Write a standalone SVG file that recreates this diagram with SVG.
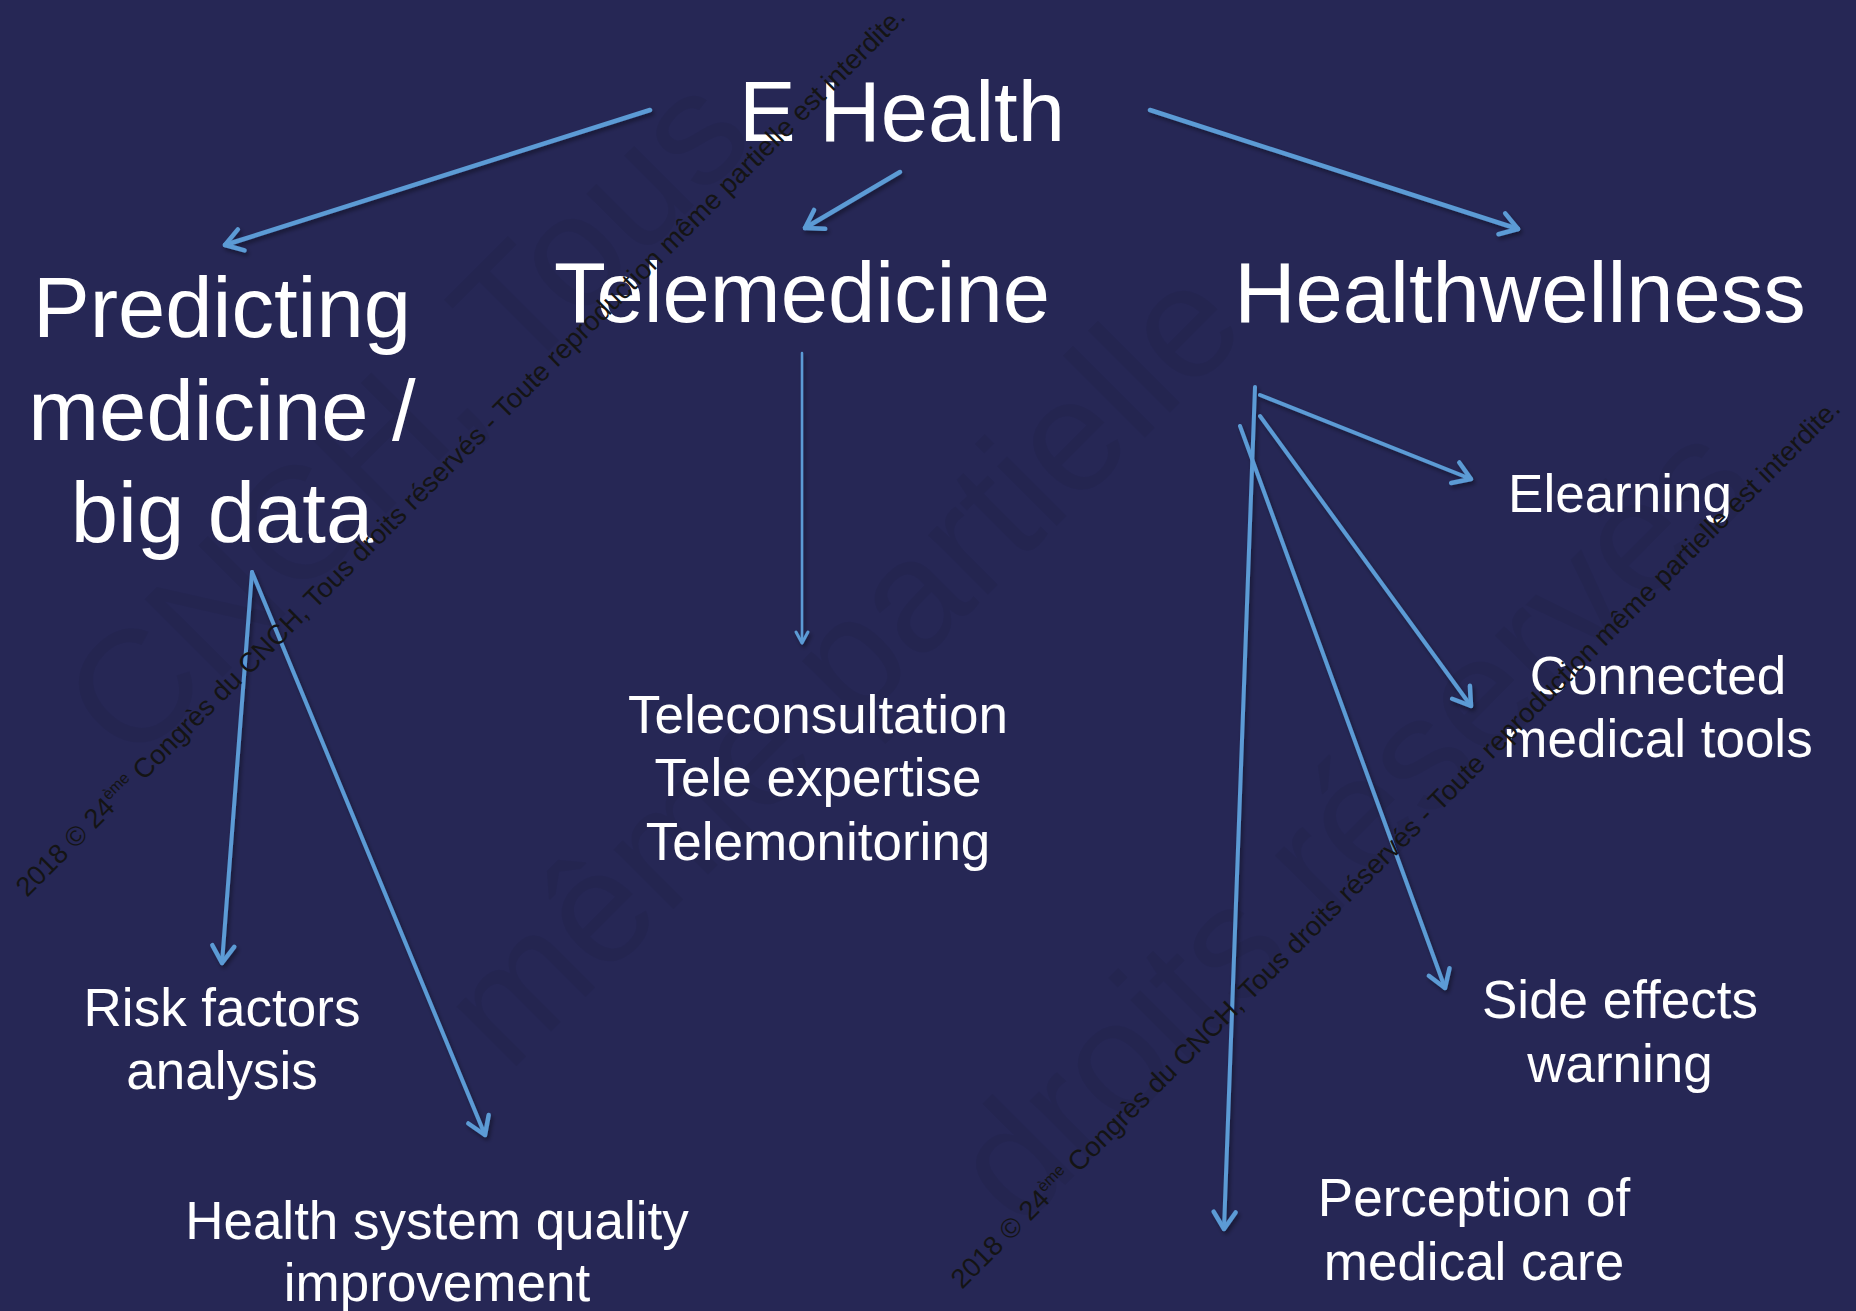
<svg xmlns="http://www.w3.org/2000/svg" width="1856" height="1311" viewBox="0 0 1856 1311">
  <defs>
    <style>
      .lbl { font-family: "Liberation Sans", Arial, sans-serif; fill: #ffffff; text-anchor: middle; }
      .head { font-size: 85px; }
      .sub { font-size: 53px; }
      .wire { stroke: #5b9bd5; fill: none; stroke-linecap: round; }
      .thick { stroke-width: 4.5; marker-end: url(#open); }
      .mid { stroke-width: 4; marker-end: url(#open); }
      .thin { stroke-width: 2.5; marker-end: url(#openThin); }
      .mark { font-family: "Liberation Sans", Arial, sans-serif; font-size: 27.3px; fill: #141414; }
      .ghost { font-family: "Liberation Sans", Arial, sans-serif; font-size: 160px; fill: #000000; fill-opacity: 0.05; }
    </style>
    <marker id="open" viewBox="-22 -13 26 26" refX="0" refY="0" markerWidth="26" markerHeight="26" markerUnits="userSpaceOnUse" orient="auto" overflow="visible">
      <path d="M-17,-11 L0,0 L-17,11" fill="none" stroke="#5b9bd5" stroke-width="4.5" stroke-linecap="round" stroke-linejoin="round"/>
    </marker>
    <marker id="openThin" viewBox="-14 -8 16 16" refX="0" refY="0" markerWidth="16" markerHeight="16" markerUnits="userSpaceOnUse" orient="auto" overflow="visible">
      <path d="M-11,-6 L0,0 L-11,6" fill="none" stroke="#5b9bd5" stroke-width="3" stroke-linecap="round" stroke-linejoin="round"/>
    </marker>
    <filter id="shade" x="-10%" y="-10%" width="120%" height="120%">
      <feDropShadow dx="2" dy="3" stdDeviation="2" flood-color="#000000" flood-opacity="0.4"/>
    </filter>
  </defs>

  <!-- slide background -->
  <rect x="0" y="0" width="1856" height="1311" fill="#262755"/>

  <!-- large faint copyright watermark, laid along the diagonal -->
  <g id="watermark-large" transform="rotate(-45)">
    <text class="ghost" x="-450" y="636">CNCH, Tous</text>
    <text class="ghost" x="-400" y="1119">même partielle</text>
    <text class="ghost" x="-150" y="1591">droits réservés</text>
  </g>

  <!-- connectors -->
  <g id="connectors" filter="url(#shade)">
    <path class="wire thick" d="M650,110 L225,245"/>
    <path class="wire thick" d="M900,172 L805,228"/>
    <path class="wire thick" d="M1150,110 L1518,229"/>
    <path class="wire thin" d="M802,353 L802,643"/>
    <path class="wire mid" d="M252,572 L222,963"/>
    <path class="wire mid" d="M252,572 L485,1135"/>
    <path class="wire mid" d="M1260,395 L1471,479"/>
    <path class="wire mid" d="M1260,416 L1471,706"/>
    <path class="wire mid" d="M1240,426 L1445,988"/>
    <path class="wire mid" d="M1255,387 L1224,1229"/>
  </g>

  <!-- nodes -->
  <g id="ehealth">
    <text class="lbl head" x="902" y="141">E Health</text>
  </g>
  <g id="predicting">
    <text class="lbl head" x="222" y="337">Predicting</text>
    <text class="lbl head" x="222" y="440">medicine /</text>
    <text class="lbl head" x="222" y="542">big data</text>
  </g>
  <g id="telemedicine">
    <text class="lbl head" x="802" y="322">Telemedicine</text>
  </g>
  <g id="healthwellness">
    <text class="lbl head" x="1520" y="322">Healthwellness</text>
  </g>
  <g id="tele-services">
    <text class="lbl sub" x="818" y="733">Teleconsultation</text>
    <text class="lbl sub" x="818" y="796">Tele expertise</text>
    <text class="lbl sub" x="818" y="860">Telemonitoring</text>
  </g>
  <g id="risk-factors">
    <text class="lbl sub" x="222" y="1026">Risk factors</text>
    <text class="lbl sub" x="222" y="1089">analysis</text>
  </g>
  <g id="health-system">
    <text class="lbl sub" x="437" y="1239">Health system quality</text>
    <text class="lbl sub" x="437" y="1301">improvement</text>
  </g>
  <g id="elearning">
    <text class="lbl sub" x="1620" y="512">Elearning</text>
  </g>
  <g id="connected-tools">
    <text class="lbl sub" x="1658" y="694">Connected</text>
    <text class="lbl sub" x="1658" y="757">medical tools</text>
  </g>
  <g id="side-effects">
    <text class="lbl sub" x="1620" y="1018">Side effects</text>
    <text class="lbl sub" x="1620" y="1082">warning</text>
  </g>
  <g id="perception">
    <text class="lbl sub" x="1474" y="1216">Perception of</text>
    <text class="lbl sub" x="1474" y="1280">medical care</text>
  </g>

  <!-- small diagonal copyright lines -->
  <g id="watermark-small">
    <text class="mark" transform="translate(27,898) rotate(-45)" x="0" y="0">2018 © 24<tspan font-size="16" dy="-11">ème</tspan><tspan dy="11"> Congrès du CNCH, Tous droits réservés - Toute reproduction même partielle est interdite.</tspan></text>
    <text class="mark" transform="translate(962,1290) rotate(-45)" x="0" y="0">2018 © 24<tspan font-size="16" dy="-11">ème</tspan><tspan dy="11"> Congrès du CNCH, Tous droits réservés - Toute reproduction même partielle est interdite.</tspan></text>
  </g>
</svg>
